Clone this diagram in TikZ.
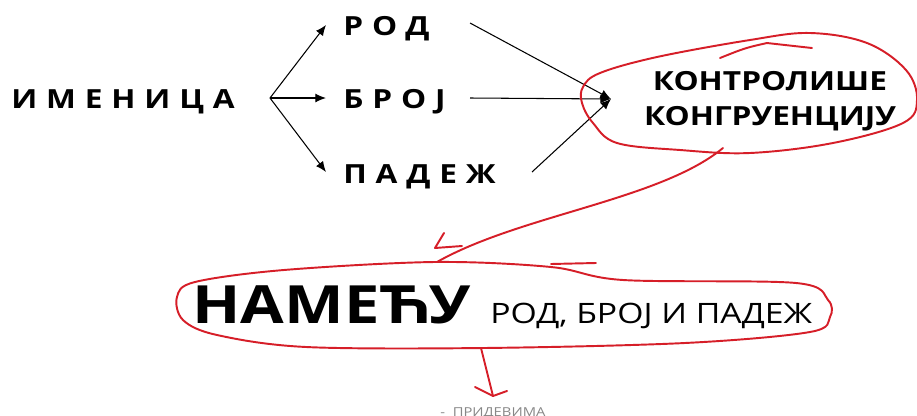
\documentclass[tikz,border=0pt]{standalone}
\usepackage{fontspec}
\setmainfont{Open Sans}
\usetikzlibrary{positioning, arrows.meta}

\definecolor{penred}{RGB}{214,30,40}
\definecolor{notegray}{RGB}{135,135,135}

% the slide is stretched sideways
\newcommand{\widetext}[1]{\scalebox{1.2}[1]{#1}}

\tikzset{
    spaced/.style={anchor=base west, inner sep=0pt,
        font=\bfseries\fontsize{15}{18}\selectfont\addfontfeature{LetterSpace=28}},
    plain/.style={anchor=base, inner sep=0pt, font=\bfseries\fontsize{15}{18}\selectfont},
    pen/.style={draw=penred, line width=1.1pt, line cap=round, line join=round},
    tip/.style={-{Latex[length=6pt, width=5pt]}, line width=0.6pt},
}

\begin{document}
\begin{tikzpicture}[x=0.02cm, y=-0.02cm]
            \clip (0, 0) rectangle (917, 416);
            \fill[white] (0, 0) rectangle (917, 416);

            % left part
            \node[spaced] (noun) at (11, 108) {\widetext{ИМЕНИЦА}};
            \node[spaced] (gender) at (343, 35) {\widetext{РОД}};
            \node[spaced] (number) at (343, 108) {\widetext{БРОЈ}};
            \node[spaced] (case) at (343, 183) {\widetext{ПАДЕЖ}};
            \coordinate (fork) at (270, 98);
            \coordinate (hub) at (611, 99);

            \draw [tip] (fork) -- (326, 25);
            \draw [tip] (fork) -- (326, 98);
            \draw [tip] (fork) -- (326, 172);
            \draw [tip] (470, 23) -- (hub);
            \draw [tip] (470, 98) -- (hub);
            \draw [tip] (532, 172) -- (hub);

            % right part
            \node[plain] (controls) at (770, 90) {\widetext{КОНТРОЛИШЕ}};
            \node[plain] (congruence) at (770, 125) {\widetext{КОНГРУЕНЦИЈУ}};

            \draw[pen] plot[smooth cycle, tension=0.6] coordinates {
                (583, 87) (600, 73) (657, 57) (750, 40) (810, 33) (867, 43)
                (906, 70) (917, 100) (903, 123) (833, 143) (750, 153)
                (680, 150) (617, 143) (593, 123) (582, 103)};
            \draw[pen] (720, 58) .. controls (745, 48) .. (767, 43) -- (812, 48);

            % bottom part
            \node[anchor=base west, inner sep=0pt, font=\bfseries\fontsize{30}{36}\selectfont]
                (impose) at (192, 323) {\widetext{НАМЕЋУ}};
            \node[anchor=base west, inner sep=0pt, font=\fontsize{16}{20}\selectfont]
                (features) at (490, 323) {\widetext{РОД, БРОЈ И ПАДЕЖ}};
            \node[anchor=base west, inner sep=0pt, text=notegray, font=\fontsize{7}{9}\selectfont]
                (adjectives) at (440, 416) {\widetext{-\ \ ПРИДЕВИМА}};

            \draw[pen] plot[smooth cycle, tension=0.55] coordinates {
                (177, 297) (195, 282) (284, 270) (435, 262) (551, 267)
                (623, 280) (796, 283) (828, 300) (830, 317) (810, 332)
                (685, 343) (484, 348) (306, 347) (217, 335) (183, 320)};
            \draw[pen] (551, 264) -- (596, 263);

            \coordinate (ringlow) at (723, 148);
            \coordinate (ringtop) at (437, 262);
            \draw[pen] (ringlow) .. controls (660, 200) and (520, 215) .. (ringtop);
            \draw[pen] (444, 233) -- (435, 248) -- (462, 246);

            \coordinate (ringbottom) at (481, 348);
            \coordinate (drop) at (493, 396);
            \draw[pen] (ringbottom) -- (drop);
            \draw[pen] (475, 387) -- (drop) -- (507, 391);
        \end{tikzpicture}
\end{document}
